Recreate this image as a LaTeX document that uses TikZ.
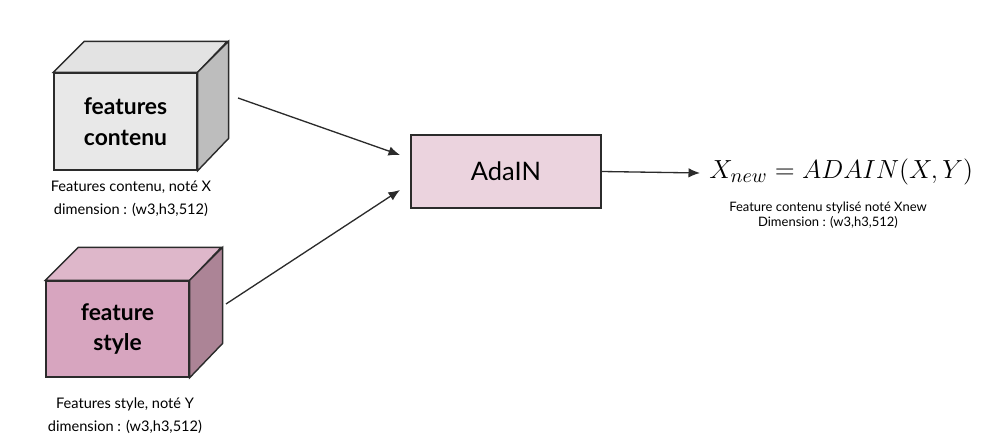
\documentclass[tikz,border=0pt]{standalone}
\usepackage{fontspec}
\setmainfont{Lato}
\usepackage{xcolor}
\usepackage{tikz}
\usepackage{amsmath}
\usetikzlibrary{
  arrows.meta,
  positioning,
  calc
}
\definecolor{adContFront}{HTML}{E8E8E8}
\definecolor{adContTop}{HTML}{E3E3E3}
\definecolor{adContSide}{HTML}{BDBDBD}
\definecolor{adStyFront}{HTML}{D7A5BF}
\definecolor{adStyTop}{HTML}{DEB7CA}
\definecolor{adStySide}{HTML}{AC8496}
\definecolor{adBox}{HTML}{EBD3DE}
\definecolor{adLine}{HTML}{2B2B2B}
\tikzset{
  cubeface/.style={
    draw=adLine, line width=0.8pt, minimum width=2.86cm, minimum height=1.94cm,
    font=\fontsize{13}{17.5}\selectfont\bfseries, align=center, inner sep=0pt
  },
  cubeside/.style={draw=adLine, line width=0.8pt, line join=miter},
  adabox/.style={
    draw=adLine, line width=0.7pt, fill=adBox, minimum width=3.8cm, minimum height=1.46cm,
    font=\fontsize{14.5}{17}\selectfont, inner sep=0pt
  },
  caption/.style={font=\fontsize{8.3}{13}\selectfont, align=center, inner sep=0pt},
  smallcap/.style={font=\fontsize{7.4}{8.6}\selectfont, align=center, inner sep=0pt},
  flow/.style={-{Latex[length=2.3mm, width=1.9mm]}, line width=0.75pt, adLine}
}

\begin{document}
\begin{tikzpicture}[x=0.02cm, y=-0.02cm]
  \useasboundingbox (0,0) rectangle (989,445);

  % cube: features contenu
  \node[cubeface, fill=adContFront] (cont) at (125.5,121.5) {features\\contenu};
  \draw[cubeside, fill=adContTop] (cont.north west) -- ++(31,-31) -- ++(143,0) -- (cont.north east) -- cycle;
  \draw[cubeside, fill=adContSide] (cont.north east) -- ++(31,-31) -- ++(0,97) -- (cont.south east) -- cycle;
  \node[caption] (contcap) at (131,199) {Features contenu, noté X\\dimension : (w3,h3,512)};

  % cube: feature style
  \node[cubeface, fill=adStyFront, minimum height=1.92cm] (sty) at (117.5,329) {feature\\style};
  \draw[cubeside, fill=adStyTop] (sty.north west) -- ++(33,-33) -- ++(143,0) -- (sty.north east) -- cycle;
  \draw[cubeside, fill=adStySide] (sty.north east) -- ++(33,-33) -- ++(0,96) -- (sty.south east) -- cycle;
  \node[caption] (stycap) at (125,416) {Features style, noté Y\\dimension : (w3,h3,512)};

  % AdaIN
  \node[adabox] (adain) at (506,171.5) {AdaIN};

  % result
  \node[font=\fontsize{15.6}{18}\selectfont, anchor=west, inner sep=0pt] (xnew) at (709,172) {\scalebox{1.035}{$X_{new} = ADAIN(X,Y)$}};
  \node[smallcap] (xnewcap) at (828,215) {Feature contenu stylisé noté Xnew\\Dimension : (w3,h3,512)};

  \coordinate (contout) at (238,98);
  \coordinate (styout) at (226,304);
  \coordinate (inA) at (400,155);
  \coordinate (inB) at (400,190);
  \draw[flow] (contout) -- (inA);
  \draw[flow] (styout) -- (inB);
  \draw[flow] (adain.east) -- ($(xnew.west)+(-9,1)$);
\end{tikzpicture}
\end{document}
